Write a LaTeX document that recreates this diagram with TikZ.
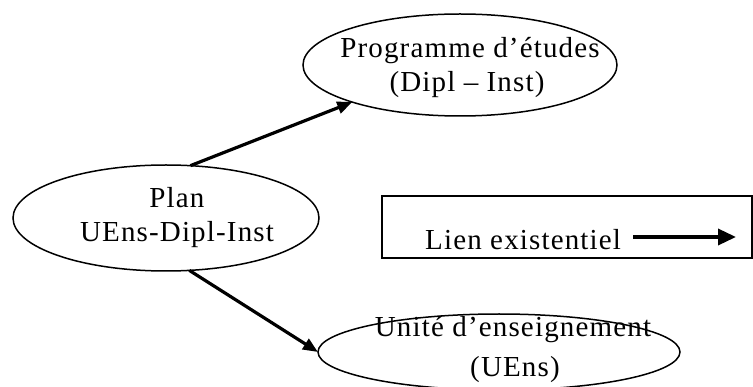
\documentclass[tikz,border=0pt]{standalone}
\usepackage{fontspec}
\setmainfont{Liberation Serif}[LetterSpace=4]
\usetikzlibrary{shapes.geometric,arrows.meta}
\begin{document}
\begin{tikzpicture}[x=1pt,y=-1pt,
  entity/.style={draw,ellipse,line width=1.5pt,inner sep=0pt,outer sep=0pt},
  lbl/.style={font=\fontsize{29}{34}\selectfont,align=center,inner sep=0pt},
  link/.style={line width=3.2pt,-{Triangle[length=15pt,width=12pt]}}]
\useasboundingbox[fill=white] (0,0) rectangle (753,387);

% entities
\node[entity,minimum width=306pt,minimum height=106pt] (plan) at (166,218) {};
\node[entity,minimum width=314pt,minimum height=102pt] (prog) at (460,65) {};
\node[entity,minimum width=362pt,minimum height=76pt] (uens) at (499,352) {};

% entity texts
\node[lbl,anchor=base] (plant1) at (177,208) {Plan};
\node[lbl,anchor=base] (plant2) at (177,242) {UEns-Dipl-Inst};
\node[lbl,anchor=base] (progt1) at (470,58) {Programme d’études};
\node[lbl,anchor=base] (progt2) at (467,92) {(Dipl – Inst)};
\node[lbl,anchor=base] (uenst1) at (513,337) {Unité d’enseignement};
\node[lbl,anchor=base] (uenst2) at (515,377) {(UEns)};

% existential links
\draw[link] (plan.65) -- (prog.199);
\draw[link] (plan.-66) -- (uens.180);

% legend
\node[draw,line width=1.5pt,minimum width=370pt,minimum height=62pt,inner sep=0pt] (legend) at (567,227) {};
\node[lbl,anchor=base west] (legtext) at (425,250) {Lien existentiel};
\coordinate (la) at (633,237);
\coordinate (lb) at (736,237);
\draw[line width=3.5pt,-{Triangle[length=18pt,width=16pt]}] (la) -- (lb);
\end{tikzpicture}
\end{document}
